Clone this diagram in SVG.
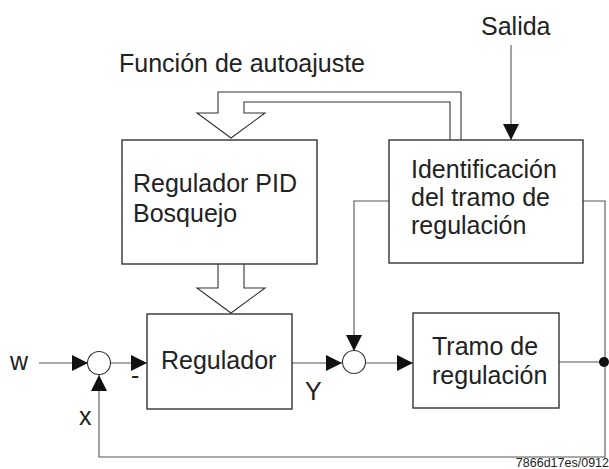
<svg xmlns="http://www.w3.org/2000/svg" width="609" height="469" viewBox="0 0 609 469">
<style>
.box{fill:#fff;stroke:#333;stroke-width:1.4}
.ln{fill:none;stroke:#555;stroke-width:1.1}
.hol{fill:#fff;stroke:#333;stroke-width:1.1}
.sum{fill:#fff;stroke:#333;stroke-width:1.1}
text{font-family:"Liberation Sans",Arial,sans-serif;font-size:25px;fill:#222}
.small{font-size:12.5px}
</style>
<defs>
<marker id="ah" markerWidth="16" markerHeight="16" viewBox="0 0 16 16" refX="16" refY="8" orient="auto" markerUnits="userSpaceOnUse">
<path d="M0,0 L16,8 L0,16 z" fill="#111"/>
</marker>
</defs>
<g id="connectors">
<path class="ln" d="M511,45 V140" marker-end="url(#ah)"/>
<path class="ln" d="M39,363 H88" marker-end="url(#ah)"/>
<path class="ln" d="M111,363 H147" marker-end="url(#ah)"/>
<path class="ln" d="M292,363 H342" marker-end="url(#ah)"/>
<path class="ln" d="M366,363 H413" marker-end="url(#ah)"/>
<path class="ln" d="M389,201 H354 V351" marker-end="url(#ah)"/>
<path class="ln" d="M559,362 H605"/>
<path class="ln" d="M583,201 H605 V457 H99 V375" marker-end="url(#ah)"/>
<circle cx="604" cy="362" r="5" fill="#111"/>
<path class="hol" d="M461,140 V92 H218 V113 H197 L231,138 L265,113 H244 V102 H450 V140"/>
<path class="hol" d="M218,264 V288 H197 L231,313 L265,288 H244 V264"/>
</g>
<g id="pid">
<rect class="box" x="122" y="140" width="195" height="124"/>
<text x="133" y="192">Regulador PID</text>
<text x="133" y="222">Bosquejo</text>
</g>
<g id="ident">
<rect class="box" x="389" y="140" width="194" height="123"/>
<text x="411" y="178">Identificación</text>
<text x="411" y="206">del tramo de</text>
<text x="411" y="234">regulación</text>
</g>
<g id="regulador">
<rect class="box" x="147" y="314" width="145" height="95"/>
<text x="161" y="369">Regulador</text>
</g>
<g id="tramo">
<rect class="box" x="413" y="313" width="146" height="95"/>
<text x="432" y="355">Tramo de</text>
<text x="432" y="384">regulación</text>
</g>
<g id="sum1"><circle class="sum" cx="99" cy="363" r="11.5"/></g>
<g id="sum2"><circle class="sum" cx="354" cy="362" r="11.5"/></g>
<g id="labels">
<text x="119" y="72">Función de autoajuste</text>
<text x="481" y="35">Salida</text>
<text x="10" y="370">w</text>
<text x="131" y="384">-</text>
<text x="79" y="425">x</text>
<text x="305" y="400">Y</text>
<text class="small" x="609" y="467" text-anchor="end">7866d17es/0912</text>
</g>
</svg>
